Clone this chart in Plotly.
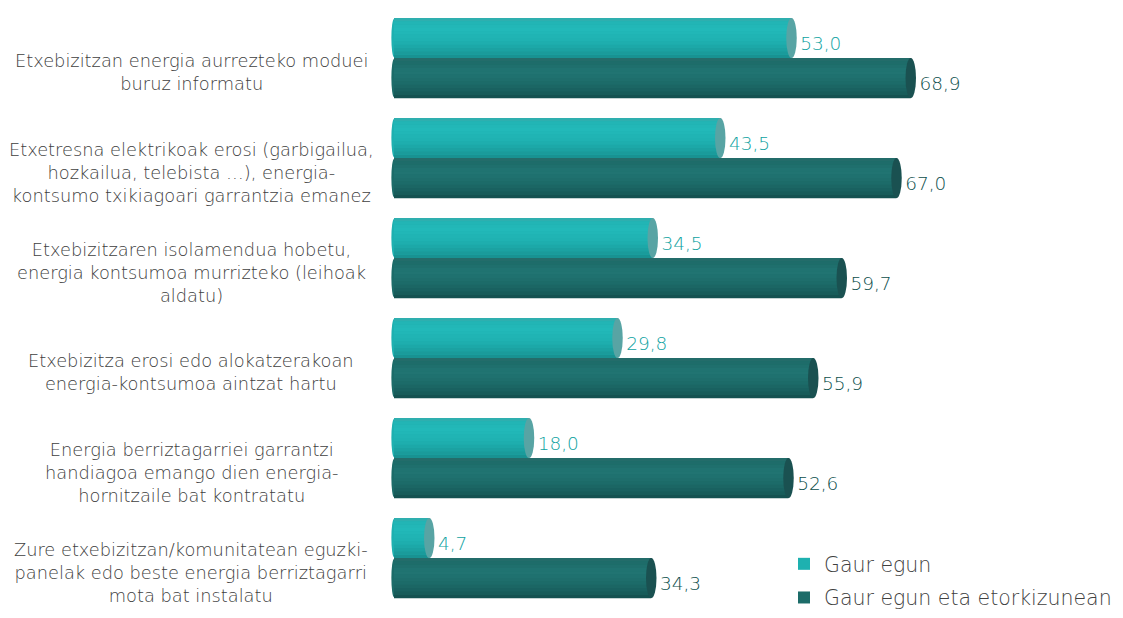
import plotly.graph_objects as go

categories = [
    "Etxebizitzan energia aurrezteko moduei<br>buruz informatu",
    "Etxetresna elektrikoak erosi (garbigailua,<br>hozkailua, telebista …), energia-<br>kontsumo txikiagoari garrantzia emanez",
    "Etxebizitzaren isolamendua hobetu,<br>energia kontsumoa murrizteko (leihoak<br>aldatu)",
    "Etxebizitza erosi edo alokatzerakoan<br>energia-kontsumoa aintzat hartu",
    "Energia berriztagarriei garrantzi<br>handiagoa emango dien energia-<br>hornitzaile bat kontratatu",
    "Zure etxebizitzan/komunitatean eguzki-<br>panelak edo beste energia berriztagarri<br>mota bat instalatu",
]
gaur_egun = [53.0, 43.5, 34.5, 29.8, 18.0, 4.7]
etorkizunean = [68.9, 67.0, 59.7, 55.9, 52.6, 34.3]
series_names = ["Gaur egun", "Gaur egun eta etorkizunean"]

idx = list(range(len(categories)))

def fmt(v):
    return f"{v:.1f}".replace(".", ",")

def hex2rgb(h):
    h = h.lstrip("#")
    return [int(h[i:i + 2], 16) for i in (0, 2, 4)]

def interp(profile, t):
    for (t0, c0), (t1, c1) in zip(profile, profile[1:]):
        if t0 <= t <= t1:
            a = (t - t0) / (t1 - t0) if t1 > t0 else 0
            r0, r1 = hex2rgb(c0), hex2rgb(c1)
            return "rgb(%d,%d,%d)" % tuple(round(x + (y - x) * a) for x, y in zip(r0, r1))
    return profile[-1][1]

fig = go.Figure()

styles = [
    dict(vals=gaur_egun, off=-0.4, base="#1eb1b0", cap="#58a4a4", tcol="#0ea2a1",
         prof=[(0, "#3aa9a9"), (0.08, "#22b4b4"), (0.3, "#22b9b9"), (0.6, "#1eb0b0"),
               (0.85, "#1a9e9e"), (1, "#178d8d")]),
    dict(vals=etorkizunean, off=0.0, base="#1c6c69", cap="#1a5151", tcol="#0b4e4b",
         prof=[(0, "#2a6f6d"), (0.08, "#1d6a68"), (0.35, "#217573"), (0.65, "#1c6a68"),
               (0.9, "#165a59"), (1, "#134c4b")]),
]
cap_hw = 0.7
nb = 12
shapes = []
for s, st in enumerate(styles):
    vals, off = st["vals"], st["off"]
    fig.add_trace(go.Bar(x=vals, y=idx, orientation="h", width=0.4, offset=off,
                         marker=dict(color=st["base"], line=dict(width=0)),
                         name=series_names[s], legendgroup=f"g{s}", showlegend=True,
                         hoverinfo="x"))
    for b in range(nb):
        t = (b + 0.5) / nb
        fig.add_trace(go.Bar(x=vals, y=idx, orientation="h", width=0.4 / nb + 0.002,
                             offset=off + 0.4 * b / nb,
                             marker=dict(color=interp(st["prof"], t), line=dict(width=0)),
                             showlegend=False, hoverinfo="skip"))
    fig.add_trace(go.Scatter(x=[v + cap_hw + 0.45 for v in vals], y=[i + off + 0.27 for i in idx],
                             mode="text", text=[fmt(v) for v in vals],
                             textposition="middle right",
                             textfont=dict(family="DejaVu Sans", weight=200, size=18.5,
                                           color=st["tcol"]),
                             showlegend=False, hoverinfo="skip"))
    for i, v in zip(idx, vals):
        shapes.append(dict(type="circle", xref="x", yref="y",
                           x0=v - cap_hw, x1=v + cap_hw, y0=i + off, y1=i + off + 0.4,
                           fillcolor=st["cap"], line=dict(width=0), layer="above"))
        shapes.append(dict(type="circle", xref="x", yref="y",
                           x0=-0.35, x1=0.35, y0=i + off + 0.01, y1=i + off + 0.39,
                           fillcolor=st["base"], line=dict(width=0), layer="below"))

# pixel layout
k = 7.5          # px per unit
zero_px = 394
L, R = 386, 1114
W = R - L
x_range = [(L - zero_px) / k, (R - zero_px) / k]
T, B = 8, 0
H = 618 - T - B
y_range = [-0.5 + H / 100.0, -0.5]

annotations = []
for i, c in zip(idx, categories):
    annotations.append(dict(xref="paper", yref="y", x=(191 - L) / W, y=i + 0.14,
                            text=c, showarrow=False, xanchor="center", yanchor="middle",
                            align="center",
                            font=dict(family="DejaVu Sans", weight=200, size=17.8,
                                      color="#404040")))

fig.update_layout(
    width=1123, height=618,
    margin=dict(l=L, r=1123 - R, t=T, b=B),
    paper_bgcolor="white", plot_bgcolor="white",
    barmode="overlay",
    xaxis=dict(range=x_range, visible=False, showgrid=False, zeroline=False),
    yaxis=dict(range=y_range, visible=False, showgrid=False, zeroline=False),
    shapes=shapes,
    annotations=annotations,
    showlegend=True,
    legend=dict(x=(784 - L) / W, y=0.0, xanchor="left", yanchor="bottom",
                font=dict(family="DejaVu Sans", weight=200, size=20.5, color="#404040"),
                tracegroupgap=4, bgcolor="rgba(0,0,0,0)", itemwidth=30),
)

fig.write_html("out.html", post_script="document.body.style.margin='0';",
               config={"displayModeBar": False})
